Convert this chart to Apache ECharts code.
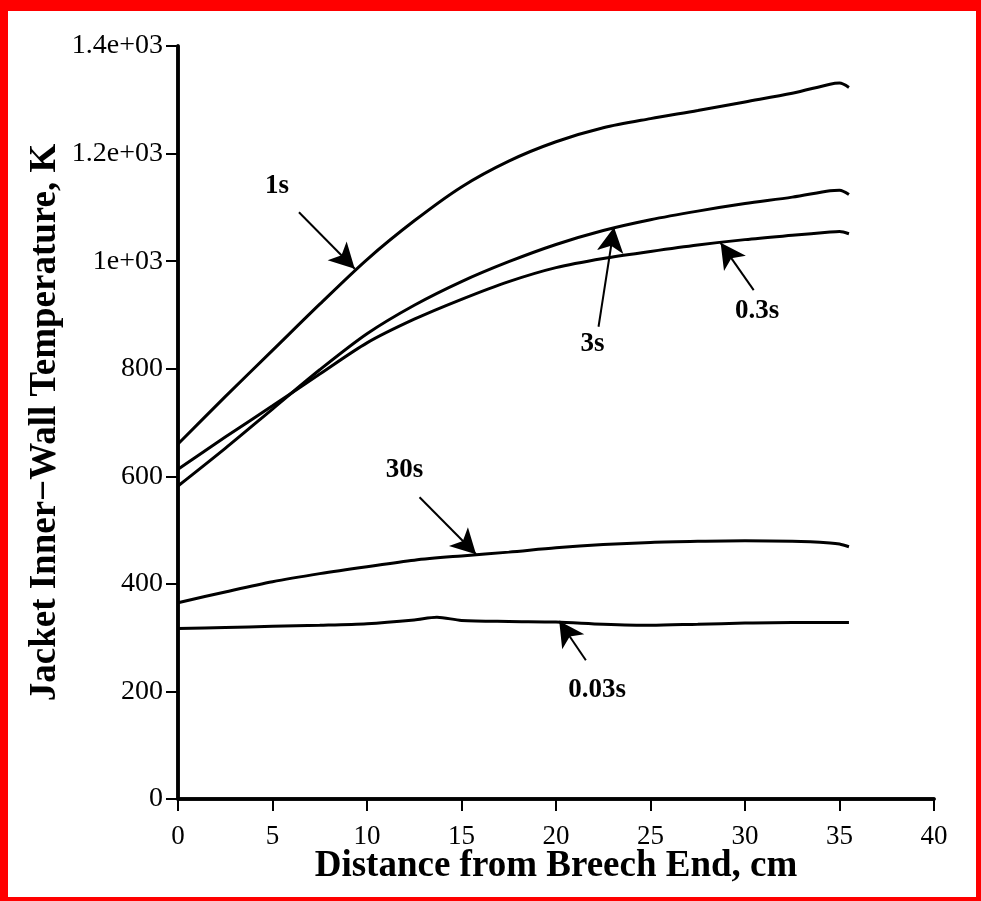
<!DOCTYPE html>
<html>
<head>
<meta charset="utf-8">
<script src="https://cdn.jsdelivr.net/npm/echarts@6/dist/echarts.min.js"></script>
<style>
  html, body { margin: 0; padding: 0; background: #fff; }
  #chart { position: absolute; left: 0; top: 0; width: 981px; height: 901px; }
  #frame { position: absolute; left: 0; top: 0; width: 981px; height: 901px; box-sizing: border-box;
           border-style: solid; border-color: #ff0000; border-width: 11px 5px 4px 8px; pointer-events: none; }
</style>
</head>
<body>
<div id="chart"></div>
<div id="frame"></div>
<script>
// distance from breech end, cm
const dist = [0, 2.5, 5, 7.5, 10, 12.5, 15, 17.5, 20, 22.5, 25, 27.5, 30, 32.5, 34.5, 35, 35.5];
const distLow = [0, 2.5, 5, 7.5, 10, 12.5, 13.7, 15, 17.5, 20, 22.5, 25, 27.5, 30, 32.5, 35.5];

// jacket inner-wall temperature, K
const t1s   = [660, 748, 834, 920, 1003, 1075, 1138, 1186, 1222, 1248, 1265, 1280, 1296, 1312, 1329, 1331, 1323];
const t3s   = [582, 652, 725, 798, 865, 918, 962, 999, 1031, 1057, 1077, 1093, 1107, 1119, 1131, 1132, 1124];
const t03s  = [613, 673, 731, 790, 848, 892, 929, 962, 988, 1005, 1018, 1030, 1040, 1048, 1054, 1055, 1051];
const t30s  = [365, 385, 404, 419, 432, 444, 452, 459, 467, 473, 477, 479, 480, 479, 476, 474, 469];
const t003s = [317, 319, 321, 323, 326, 333, 338, 332, 330, 329, 325, 323, 325, 327, 328, 328];

const yTickLabels = ['0', '200', '400', '600', '800', '1e+03', '1.2e+03', '1.4e+03'];

// curve labels and arrows (data coords)
const labelNames = ['1s', '3s', '0.3s', '30s', '0.03s'];
const labelPos = [[5.24, 1139], [21.93, 845], [30.64, 907], [11.98, 611], [22.17, 203]];
const arrowFrom = [[6.4, 1091], [22.25, 878], [30.46, 946], [12.78, 561], [21.58, 258]];
const arrowTo   = [[9.35, 986], [23.07, 1063], [28.71, 1034], [15.77, 455], [20.17, 331]];

const chart = echarts.init(document.getElementById('chart'), null, { renderer: 'canvas' });

const serif = 'Liberation Serif';
const axisLine = { show: true, lineStyle: { color: '#000', width: 3.5 } };

function curve(name, xs, values) {
  return {
    name: name,
    type: 'line',
    data: xs.map((d, i) => [d, values[i]]),
    showSymbol: false,
    smooth: 0.3,
    lineStyle: { color: '#000', width: 3 },
    silent: true
  };
}

const option = {
  animation: false,
  backgroundColor: '#fff',
  grid: { left: 178, right: 47, top: 46, bottom: 102, containLabel: false },
  xAxis: [
    {
      type: 'value', min: 0, max: 40, interval: 5, position: 'bottom',
      axisLine: axisLine,
      axisTick: { show: true, inside: false, length: 12, lineStyle: { color: '#000', width: 2 } },
      axisLabel: { fontFamily: serif, fontSize: 27, color: '#000', margin: 24 },
      splitLine: { show: false },
      name: 'Distance from Breech End, cm', nameLocation: 'middle', nameGap: 49, nameMoveOverlap: false,
      nameTextStyle: { fontFamily: serif, fontWeight: 'bold', fontSize: 37, color: '#000' }
    },
    {
      type: 'value', min: 0, max: 40, interval: 5, position: 'top',
      axisLine: axisLine,
      axisTick: { show: true, inside: true, length: 12, lineStyle: { color: '#000', width: 2 } },
      axisLabel: { show: false }, splitLine: { show: false }
    }
  ],
  yAxis: [
    {
      type: 'value', min: 0, max: 1400, interval: 200, position: 'left',
      axisLine: axisLine,
      axisTick: { show: true, inside: false, length: 8, lineStyle: { color: '#000', width: 2 } },
      axisLabel: {
        fontFamily: serif, fontSize: 28, color: '#000', margin: 15,
        formatter: v => yTickLabels[Math.round(v / 200)]
      },
      splitLine: { show: false },
      name: 'Jacket Inner\u2212Wall Temperature, K', nameLocation: 'middle', nameGap: 114, nameRotate: 90,
      nameMoveOverlap: false,
      nameTextStyle: { fontFamily: serif, fontWeight: 'bold', fontSize: 37, color: '#000' }
    },
    {
      type: 'value', min: 0, max: 1400, interval: 200, position: 'right',
      axisLine: axisLine,
      axisTick: { show: true, inside: true, length: 12, lineStyle: { color: '#000', width: 2 } },
      axisLabel: { show: false }, splitLine: { show: false }
    }
  ],
  series: [
    curve('1s', dist, t1s),
    curve('3s', dist, t3s),
    curve('0.3s', dist, t03s),
    curve('30s', dist, t30s),
    curve('0.03s', distLow, t003s),
    {
      type: 'scatter',
      symbolSize: 0,
      silent: true,
      itemStyle: { color: '#000', opacity: 1 },
      data: labelNames.map((n, i) => ({ name: n, value: labelPos[i] })),
      label: {
        show: true, position: 'inside', formatter: p => p.name,
        fontFamily: serif, fontWeight: 'bold', fontSize: 27, color: '#000',
        textBorderWidth: 0, opacity: 1
      },
      markLine: {
        silent: true,
        symbol: ['none', 'arrow'],
        symbolSize: [20, 25],
        label: { show: false },
        lineStyle: { color: '#000', width: 2, type: 'solid', opacity: 1 },
        data: arrowFrom.map((f, i) => [{ coord: f }, { coord: arrowTo[i] }])
      }
    }
  ]
};

chart.setOption(option);
</script>
</body>
</html>
